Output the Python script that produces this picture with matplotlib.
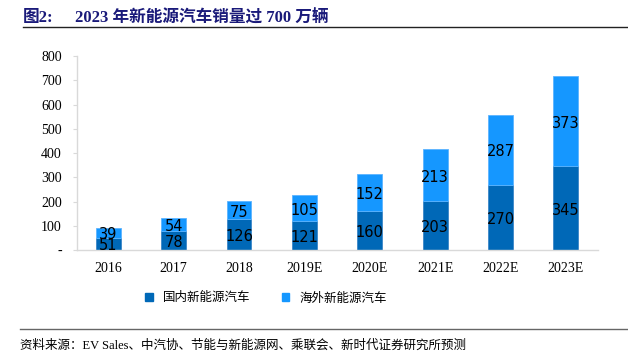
import numpy as np
import matplotlib.pyplot as plt
import matplotlib.transforms as mtransforms
from matplotlib.lines import Line2D
from matplotlib.patches import Patch

years = ["2016", "2017", "2018", "2019E", "2020E", "2021E", "2022E", "2023E"]
domestic = [51, 78, 126, 121, 160, 203, 270, 345]
overseas = [39, 54, 75, 105, 152, 213, 287, 373]
yticks = [0, 100, 200, 300, 400, 500, 600, 700, 800]
ytick_labels = ["-"] + [str(v) for v in yticks[1:]]

c_dom = "#0068B7"
c_ovs = "#1597FF"
serif_cjk = ["Liberation Serif", "Noto Sans CJK SC"]
cjk = ["Noto Sans CJK SC", "DejaVu Sans"]

fig = plt.figure(figsize=(6.28, 3.63), dpi=100)
ax = fig.add_axes([0.1226, 0.3113, 0.8294, 0.5344])

x = np.arange(len(years))
w = 0.38
ax.bar(x, domestic, width=w, color=c_dom, edgecolor="#3c86c8", linewidth=0.6)
ax.bar(x, overseas, width=w, bottom=domestic, color=c_ovs, edgecolor="#5cb4ff", linewidth=0.6)

# labels sit a little below the segment centre, like the original
shift = mtransforms.offset_copy(ax.transData, fig=fig, x=0, y=-1.5, units="points")
for i in range(len(years)):
    ax.text(x[i], domestic[i] / 2, str(domestic[i]), ha="center", va="center",
            fontsize=10.5, color="black", family="DejaVu Sans", transform=shift)
    ax.text(x[i], domestic[i] + overseas[i] / 2, str(overseas[i]), ha="center", va="center",
            fontsize=10.5, color="black", family="DejaVu Sans", transform=shift)

ax.set_xlim(-0.48, 7.49)
ax.set_ylim(0, 800)
ax.set_yticks(yticks, ytick_labels, family="Liberation Serif", fontsize=10)
ax.set_xticks(x, years, family="Liberation Serif", fontsize=10)
ax.tick_params(axis="x", length=0, pad=9)
ax.tick_params(axis="y", length=3, color="#d9d9d9", pad=8)
for s in ["top", "right"]:
    ax.spines[s].set_visible(False)
for s in ["left", "bottom"]:
    ax.spines[s].set_color("#d9d9d9")
    ax.spines[s].set_linewidth(1.0)

# title and rules
fig.text(23 / 628, 1 - 18 / 363, "图2:", family=serif_cjk, fontsize=12,
         fontweight="bold", color="#1a1a7a", va="center")
fig.text(75 / 628, 1 - 18 / 363, "2023 年新能源汽车销量过 700 万辆", family=serif_cjk,
         fontsize=12, fontweight="bold", color="#1a1a7a", va="center")
fig.add_artist(Line2D([23 / 628, 1.0], [1 - 27 / 363] * 2, color="#222222", linewidth=1.0))
fig.add_artist(Line2D([20 / 628, 1.0], [1 - 329 / 363] * 2, color="#666666", linewidth=1.0))

handles = [Patch(color=c_dom), Patch(color=c_ovs)]
fig.legend(handles, ["国内新能源汽车", "海外新能源汽车"], loc="center",
           bbox_to_anchor=(266 / 628, 1 - 298 / 363), ncol=2, frameon=False,
           prop={"family": cjk, "size": 9}, handlelength=0.6, handleheight=0.6,
           handletextpad=0.8, columnspacing=2.5)

fig.text(20 / 628, 1 - 346 / 363, "资料来源：EV Sales、中汽协、节能与新能源网、乘联会、新时代证券研究所预测",
         family=serif_cjk, fontsize=9, va="center", color="black")

fig.savefig("out.png", dpi=100)
